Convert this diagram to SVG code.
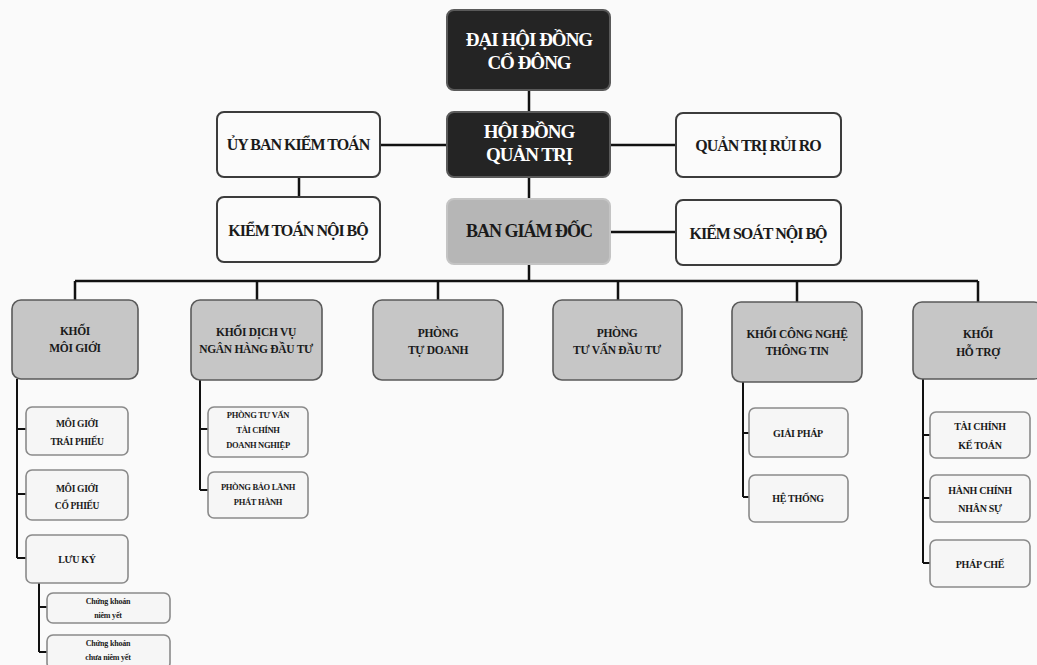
<svg xmlns="http://www.w3.org/2000/svg" width="1037" height="665" viewBox="0 0 1037 665">
<style>
.t{font-family:"Liberation Serif","Times New Roman",serif;font-weight:bold;text-anchor:middle;fill:#1a1a1a}
.dk rect{fill:#242424;stroke:#5a5a5a;stroke-width:2}
.dk text{fill:#ffffff;font-size:19px;letter-spacing:-1px}
.wt rect{fill:#fbfbfb;stroke:#3c3c3c;stroke-width:2}
.wt text{font-size:16px;letter-spacing:-1px}
.bg rect{fill:#b6b6b6;stroke:#c4c4c4;stroke-width:2}
.bg text{font-size:18px;letter-spacing:-1px}
.l2 rect{fill:#c6c6c6;stroke:#5a5a5a;stroke-width:1.6}
.l2 text{font-size:11.5px;letter-spacing:-0.3px}
.sb rect{fill:#f6f6f6;stroke:#8a8a8a;stroke-width:1.6}
.sb text{font-size:10px;letter-spacing:-0.3px}
.s9 text{font-size:9.5px}
.s8 text{font-size:8.5px}
.s7 text{font-size:8px;letter-spacing:-0.2px}
.cn{fill:none;stroke:#111;stroke-width:2.5}
.cs{fill:none;stroke:#111;stroke-width:2}
</style>
<rect x="0" y="0" width="1037" height="665" fill="#fafafa"/>

<g id="connectors">
<path class="cn" d="M529 90V112M447 145H380M610 145H676M299 177V197M529 177V199M610 232H676M529 264V281M75 281H978M75 281V300M257 281V300M438 281V300M618 281V300M797 281V302M978 281V302"/>
<path class="cs" d="M17 379V558M17 429H26M17 494H26M17 558H26"/>
<path class="cs" d="M39 583V652M39 607H47M39 652H47"/>
<path class="cs" d="M200 380V490M200 429H208M200 490H208"/>
<path class="cs" d="M743 382V497M743 433H749M743 497H749"/>
<path class="cs" d="M923 379V563M923 435H930M923 498H930M923 563H930"/>
</g>

<g id="dhdcd" class="dk t"><rect x="447" y="10" width="163" height="80" rx="7"/><text x="529" y="46">ĐẠI HỘI ĐỒNG</text><text x="529" y="69">CỔ ĐÔNG</text></g>
<g id="hdqt" class="dk t"><rect x="447" y="112" width="163" height="65" rx="7"/><text x="529" y="138">HỘI ĐỒNG</text><text x="529" y="161">QUẢN TRỊ</text></g>
<g id="ubkt" class="wt t"><rect x="217" y="112" width="163" height="65" rx="7"/><text x="298" y="150">ỦY BAN KIỂM TOÁN</text></g>
<g id="qtrr" class="wt t"><rect x="676" y="113" width="165" height="64" rx="7"/><text x="758" y="151">QUẢN TRỊ RỦI RO</text></g>
<g id="ktnb" class="wt t"><rect x="217" y="197" width="163" height="65" rx="7"/><text x="298" y="236">KIỂM TOÁN NỘI BỘ</text></g>
<g id="bgd" class="bg t"><rect x="447" y="199" width="163" height="65" rx="7"/><text x="529" y="237">BAN GIÁM ĐỐC</text></g>
<g id="ksnb" class="wt t"><rect x="676" y="200" width="165" height="65" rx="7"/><text x="758" y="239">KIỂM SOÁT NỘI BỘ</text></g>

<g id="kmg" class="l2 t"><rect x="12" y="300" width="126" height="79" rx="9"/><text x="75" y="335">KHỐI</text><text x="75" y="352">MÔI GIỚI</text></g>
<g id="kdv" class="l2 t"><rect x="191" y="300" width="131" height="80" rx="9"/><text x="256" y="336">KHỐI DỊCH VỤ</text><text x="256" y="353">NGÂN HÀNG ĐẦU TƯ</text></g>
<g id="ptd" class="l2 t"><rect x="373" y="300" width="130" height="80" rx="9"/><text x="438" y="337">PHÒNG</text><text x="438" y="354">TỰ DOANH</text></g>
<g id="ptv" class="l2 t"><rect x="553" y="300" width="129" height="80" rx="9"/><text x="617" y="337">PHÒNG</text><text x="617" y="354">TƯ VẤN ĐẦU TƯ</text></g>
<g id="kcn" class="l2 t"><rect x="732" y="302" width="130" height="80" rx="9"/><text x="797" y="338">KHỐI CÔNG NGHỆ</text><text x="797" y="355">THÔNG TIN</text></g>
<g id="kht" class="l2 t"><rect x="913" y="302" width="130" height="77" rx="9"/><text x="978" y="338">KHỐI</text><text x="978" y="356">HỖ TRỢ</text></g>

<g id="mgtp" class="sb s9 t"><rect x="26" y="407" width="102" height="48" rx="6"/><text x="77" y="427">MÔI GIỚI</text><text x="77" y="445">TRÁI PHIẾU</text></g>
<g id="mgcp" class="sb s9 t"><rect x="26" y="470" width="102" height="50" rx="6"/><text x="77" y="492">MÔI GIỚI</text><text x="77" y="509">CỔ PHIẾU</text></g>
<g id="lk" class="sb t"><rect x="26" y="535" width="102" height="48" rx="6"/><text x="77" y="563">LƯU KÝ</text></g>
<g id="cknv" class="sb s7 t"><rect x="47" y="593" width="123" height="30" rx="6"/><text x="108" y="604">Chứng khoán</text><text x="108" y="618">niêm yết</text></g>
<g id="ckcnv" class="sb s7 t"><rect x="47" y="635" width="123" height="34" rx="6"/><text x="108" y="646">Chứng khoán</text><text x="108" y="660">chưa niêm yết</text></g>

<g id="ptvtc" class="sb s8 t"><rect x="208" y="407" width="100" height="50" rx="6"/><text x="258" y="418">PHÒNG TƯ VẤN</text><text x="258" y="433">TÀI CHÍNH</text><text x="258" y="448">DOANH NGHIỆP</text></g>
<g id="pbl" class="sb s8 t"><rect x="208" y="472" width="100" height="46" rx="6"/><text x="258" y="490">PHÒNG BẢO LÃNH</text><text x="258" y="505">PHÁT HÀNH</text></g>

<g id="gp" class="sb t"><rect x="749" y="408" width="99" height="49" rx="6"/><text x="798" y="437">GIẢI PHÁP</text></g>
<g id="ht" class="sb t"><rect x="749" y="475" width="99" height="47" rx="6"/><text x="798" y="502">HỆ THỐNG</text></g>

<g id="tckt" class="sb t"><rect x="930" y="412" width="100" height="46" rx="6"/><text x="980" y="430">TÀI CHÍNH</text><text x="980" y="449">KẾ TOÁN</text></g>
<g id="hcns" class="sb t"><rect x="930" y="475" width="100" height="47" rx="6"/><text x="980" y="494">HÀNH CHÍNH</text><text x="980" y="512">NHÂN SỰ</text></g>
<g id="pc" class="sb t"><rect x="930" y="540" width="100" height="47" rx="6"/><text x="980" y="568">PHÁP CHẾ</text></g>
</svg>
